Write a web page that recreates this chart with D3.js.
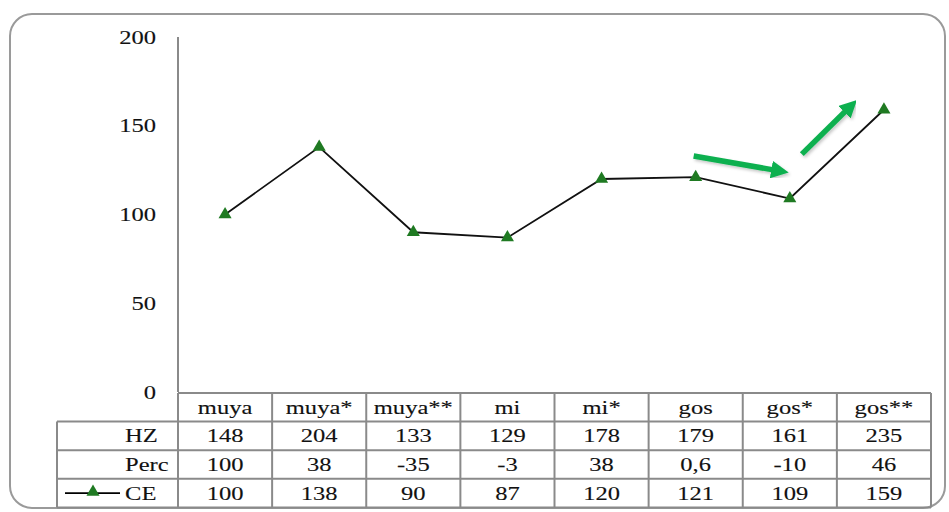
<!DOCTYPE html>
<html>
<head>
<meta charset="utf-8">
<script src="https://cdn.jsdelivr.net/npm/d3@7/dist/d3.min.js"></script>
<style>
  html, body { margin: 0; padding: 0; background: #fff; }
  svg { display: block; }
</style>
</head>
<body>
<svg id="chart" width="949" height="512"></svg>
<script>
// Syllable conditions along the x axis
const categories = ["muya", "muya*", "muya**", "mi", "mi*", "gos", "gos*", "gos**"];
// Table rows
const hzValues   = ["148", "204", "133", "129", "178", "179", "161", "235"];
const percValues = ["100", "38", "-35", "-3", "38", "0,6", "-10", "46"];
const ceValues   = [100, 138, 90, 87, 120, 121, 109, 159];
const yTicks = [0, 50, 100, 150, 200];

const FONT = "'Liberation Serif', 'Times New Roman', 'DejaVu Serif', serif";
const STRETCH = 1.26;   // wide serif lettering
const FS = 19.5;

const svg = d3.select("#chart");

// Place a horizontally widened text label
function label(g, x, y, str, anchor) {
  return g.append("text")
    .attr("transform", `translate(${x},${y}) scale(${STRETCH},1)`)
    .attr("text-anchor", anchor)
    .attr("dominant-baseline", "central")
    .attr("font-family", FONT)
    .style("font-family", FONT)
    .style("font-size", FS + "px")
    .attr("fill", "#111")
    .attr("stroke", "#111")
    .attr("stroke-width", 0.12)
    .text(str);
}

// Rounded outer frame
svg.append("rect")
  .attr("x", 10).attr("y", 14)
  .attr("width", 935).attr("height", 494)
  .attr("rx", 22).attr("ry", 22)
  .attr("fill", "none")
  .attr("stroke", "#9a9a9a")
  .attr("stroke-width", 2);

const plotLeft = 178, plotRight = 931;
const yTop = 37, yZero = 392;

const x = d3.scaleBand().domain(categories).range([plotLeft, plotRight]);
const y = d3.scaleLinear().domain([0, 200]).range([yZero, yTop]);
const xc = d => x(d) + x.bandwidth() / 2;

// Vertical value axis line and labels
svg.append("line")
  .attr("x1", plotLeft).attr("x2", plotLeft)
  .attr("y1", y(200)).attr("y2", y(0))
  .attr("stroke", "#8a8a8a").attr("stroke-width", 2);
const gy = svg.append("g");
yTicks.forEach(t => label(gy, 156, y(t), String(t), "end"));

// Data table under the plot
const rowH = 28.6;
const tableTop = yZero + 1;
const labelLeft = 57;
const rows = [
  { name: "HZ", vals: hzValues },
  { name: "Perc", vals: percValues },
  { name: "CE", vals: ceValues.map(String) }
];
const grid = svg.append("g").attr("stroke", "#8a8a8a").attr("stroke-width", 2).attr("fill", "none");

grid.append("line").attr("x1", plotLeft).attr("x2", plotRight).attr("y1", tableTop).attr("y2", tableTop);
const tableBottom = tableTop + rowH * 4;
for (let i = 1; i <= 4; i++) {
  const yy = tableTop + rowH * i;
  grid.append("line").attr("x1", labelLeft).attr("x2", plotRight).attr("y1", yy).attr("y2", yy);
}
grid.append("line").attr("x1", labelLeft).attr("x2", labelLeft).attr("y1", tableTop + rowH).attr("y2", tableBottom);
categories.forEach(c => {
  grid.append("line").attr("x1", x(c)).attr("x2", x(c)).attr("y1", tableTop).attr("y2", tableBottom);
});
grid.append("line").attr("x1", plotRight).attr("x2", plotRight).attr("y1", tableTop).attr("y2", tableBottom);

const gt = svg.append("g");
categories.forEach(c => label(gt, xc(c), tableTop + rowH / 2, c, "middle"));
rows.forEach((r, i) => {
  const cy = tableTop + rowH * (i + 1.5);
  label(gt, 125, cy, r.name, "start");
  r.vals.forEach((v, j) => label(gt, xc(categories[j]), cy, v, "middle"));
});

// Legend key in the CE row
const markerColor = "#1f7a22";
const tri = d3.symbol().type(d3.symbolTriangle).size(74);
const legY = tableTop + rowH * 3.5;
svg.append("line").attr("x1", 65).attr("x2", 120).attr("y1", legY).attr("y2", legY)
  .attr("stroke", "#000").attr("stroke-width", 1.7);
svg.append("path").attr("d", tri).attr("fill", markerColor)
  .attr("transform", `translate(93,${legY - 1})`);

// CE line with triangle markers
const line = d3.line().x((d, i) => xc(categories[i])).y(d => y(d));
svg.append("path").datum(ceValues).attr("d", line)
  .attr("fill", "none").attr("stroke", "#111").attr("stroke-width", 1.8);
svg.append("g").selectAll("path").data(ceValues).join("path")
  .attr("d", tri).attr("fill", markerColor)
  .attr("transform", (d, i) => `translate(${xc(categories[i])},${y(d)})`);

// Green trend arrows
const arrowColor = "#0bb04f";
const defs = svg.append("defs");
defs.append("marker").attr("id", "head")
  .attr("viewBox", "0 0 10 10").attr("refX", 2).attr("refY", 5)
  .attr("markerWidth", 3.2).attr("markerHeight", 3.2)
  .attr("markerUnits", "strokeWidth").attr("orient", "auto")
  .append("path").attr("d", "M0,0 L10,5 L0,10 Z").attr("fill", arrowColor);
const shadow = defs.append("filter").attr("id", "sh").attr("x", "-20%").attr("y", "-50%").attr("width", "140%").attr("height", "200%");
shadow.append("feDropShadow").attr("dx", 1.5).attr("dy", 2).attr("stdDeviation", 1.5).attr("flood-color", "#000").attr("flood-opacity", 0.22);

const arrows = [
  { x1: xc("gos") - 2, v1: 133, x2: xc("gos*") - 15, v2: 125 },
  { x1: xc("gos*") + 12, v1: 134, x2: xc("gos**") - 37, v2: 159 }
];
svg.append("g").selectAll("line").data(arrows).join("line")
  .attr("x1", d => d.x1).attr("y1", d => y(d.v1))
  .attr("x2", d => d.x2).attr("y2", d => y(d.v2))
  .attr("stroke", arrowColor).attr("stroke-width", 5.5)
  .attr("marker-end", "url(#head)")
  .attr("filter", "url(#sh)");
</script>
</body>
</html>
